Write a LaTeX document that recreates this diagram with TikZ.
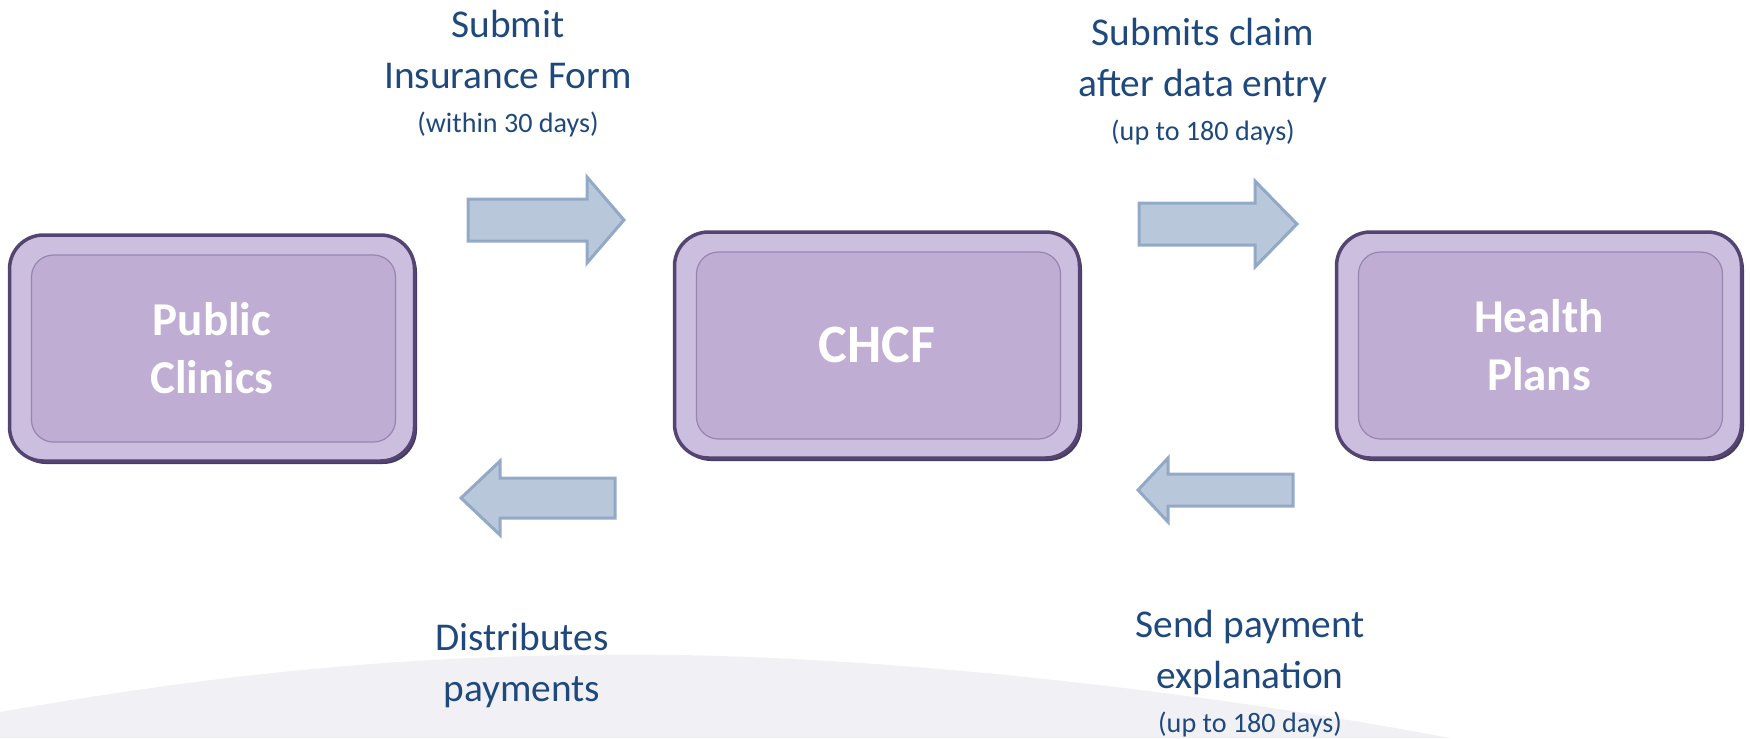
\documentclass[tikz,border=0pt]{standalone}
\usepackage{fontspec}
\setmainfont{Carlito}
\usetikzlibrary{positioning}

\definecolor{labelblue}{RGB}{31,73,125}
\definecolor{boxedge}{RGB}{84,68,114}
\definecolor{boxrim}{RGB}{203,190,222}
\definecolor{boxface}{RGB}{191,173,211}
\definecolor{boxline}{RGB}{150,134,176}
\definecolor{arrowfill}{RGB}{180,196,216}
\definecolor{arrowedge}{RGB}{143,166,197}
\definecolor{swoosh}{RGB}{241,241,245}

\begin{document}
\begin{tikzpicture}[x=0.1mm,y=-0.1mm,
  stage/.style={rounded corners=3.4mm,minimum width=40.5mm,minimum height=22.6mm,
    fill=boxrim,draw=boxedge,line width=0.35mm,text=white,align=center,
    font=\bfseries\fontsize{13.4}{16.5}\selectfont,
    preaction={fill=boxedge!85!black,transform canvas={shift={(0.25mm,-0.3mm)}}},
    path picture={\draw[boxline,fill=boxface,line width=0.12mm,rounded corners=2.2mm]
      ([shift={(2.2mm,-2mm)}]path picture bounding box.north west) rectangle
      ([shift={(-1.9mm,1.9mm)}]path picture bounding box.south east);}},
  flowlabel/.style={text=labelblue,align=center,inner sep=0,anchor=north,
    font=\fontsize{11.2}{14.6}\selectfont},
  blockarrow/.style={fill=arrowfill,draw=arrowedge,line width=0.3mm,opacity=.95}]
\useasboundingbox (0,0) rectangle (1750,738);

% background
\fill[swoosh] (0,712) .. controls (250,668) and (450,652) .. (680,655)
  .. controls (950,660) and (1250,700) .. (1450,738) -- (0,738) -- cycle;

% boxes
\node [stage] (clinics) at (212,348) {Public\\Clinics};
\node [stage,font=\bfseries\fontsize{15.4}{18}\selectfont] (chcf) at (877,345) {CHCF};
\node [stage] (plans) at (1539,345) {Health\\Plans};

% arrows
\draw [blockarrow] (468,199) -- (587,199) -- (587,177) -- (624,220) -- (587,263) -- (587,241) -- (468,241) -- cycle;
\draw [blockarrow] (1139,203) -- (1255,203) -- (1255,181) -- (1297,224) -- (1255,267) -- (1255,245) -- (1139,245) -- cycle;
\draw [blockarrow] (615,478) -- (500,478) -- (500,461) -- (461,498) -- (500,535) -- (500,518) -- (615,518) -- cycle;
\draw [blockarrow] (1293,474) -- (1168,474) -- (1168,458) -- (1138,490) -- (1168,522) -- (1168,506) -- (1293,506) -- cycle;

% labels
\node [flowlabel] (submit) at (508,9) {Submit\\Insurance Form\\[-2pt]{\fontsize{8}{10}\selectfont(within 30 days)}};
\node [flowlabel] (claim) at (1203,17) {Submits claim\\after data entry\\[-2pt]{\fontsize{8}{10}\selectfont(up to 180 days)}};
\node [flowlabel] (distribute) at (522,622) {Distributes\\payments};
\node [flowlabel] (explain) at (1250,609) {Send payment\\explanation\\[-2pt]{\fontsize{8}{10}\selectfont(up to 180 days)}};
\end{tikzpicture}
\end{document}
